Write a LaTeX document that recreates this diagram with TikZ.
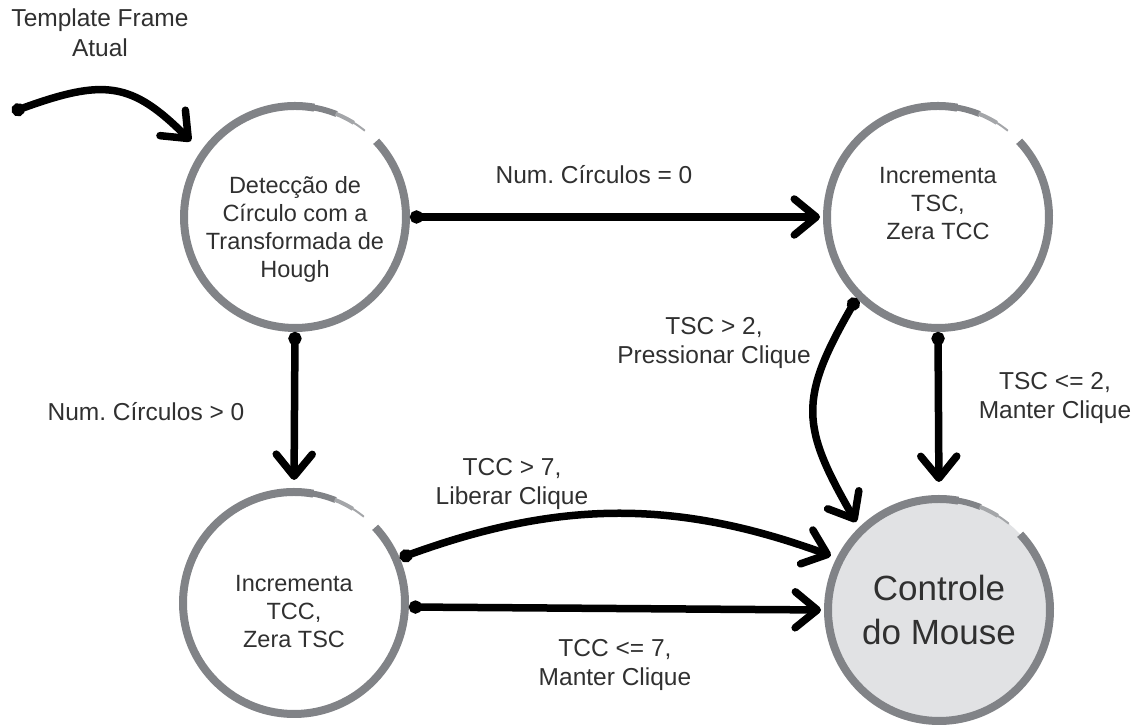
\documentclass[tikz,border=0pt]{standalone}
\usepackage{fontspec}
\setmainfont{Liberation Sans}
\frenchspacing
\usetikzlibrary{arrows.meta,calc}

\definecolor{ring}{HTML}{818387}
\definecolor{ringfade}{HTML}{A4A6A9}
\definecolor{mousefill}{HTML}{E1E2E4}
\definecolor{ink}{HTML}{303030}

\tikzset{
  state/.style={circle, minimum size=222pt, inner sep=0pt, outer sep=4pt},
  statetext/.style={align=center, text=ink, font=\fontsize{23.5}{28}\selectfont},
  bigtext/.style={align=center, text=ink, font=\fontsize{35}{44}\selectfont},
  lbl/.style={align=center, text=ink, font=\fontsize{24.5}{29.5}\selectfont},
  brush/.style={draw=black, line width=7.5pt, line cap=round,
    {Circle[length=13pt]}-{Straight Barb[length=22pt,width=36pt,round]}},
}

% gray brush ring with a tapering tail near the top right
\newcommand\brushring[1]{%
  \draw[ring, line width=8pt] ($(#1.center)+(43:111pt)$)
    arc[start angle=43, end angle=-280, radius=111pt];
  \foreach \a/\b/\w/\c in {80.5/68/6/ring, 68.5/58/4/ringfade, 58.5/51/2/ringfade}{
    \draw[\c, line width=\w pt] ($(#1.center)+(\a:111pt)$)
      arc[start angle=\a, end angle=\b, radius=111pt];
  }%
}

\begin{document}
\begin{tikzpicture}[x=1pt, y=1pt]
  \useasboundingbox (0,0) rectangle (1141,725);

  % states
  \node[state] (c1) at (295,508) {};
  \node[state] (c2) at (938,508) {};
  \node[state] (c3) at (294,122) {};
  \node[state, fill=mousefill] (c4) at (939,115) {};

  \brushring{c1}
  \brushring{c2}
  \brushring{c3}
  \brushring{c4}

  \node[statetext] (c1t) at (295,496) {Detecção de\\Círculo com a\\Transformada de\\Hough};
  \node[statetext] (c2t) at (938,521) {Incrementa\\TSC,\\Zera TCC};
  \node[statetext] (c3t) at (294,113) {Incrementa\\TCC,\\Zera TSC};
  \node[bigtext]   (c4t) at (939,115) {Controle\\do Mouse};

  % entry
  \node[lbl] (tmpl) at (100,692) {Template Frame\\Atual};
  \coordinate (src) at (12,613);
  \draw[brush, shorten >=14pt] (src) to[out=20, in=135, looseness=1.3] (c1.145);

  % transitions
  \draw[brush, shorten >=3pt] (c1.east) -- (c2.west);
  \draw[brush, shorten >=8pt] (c1.south) -- (c3.north);
  \draw[brush, shorten >=13pt] (c2.south) -- (c4.north);
  \draw[brush, shorten >=6pt] (c2.225) to[out=240, in=120, looseness=1.3] (c4.134);
  \draw[brush, shorten >=6pt] (c3.23) to[out=20, in=160] (c4.153);
  \draw[brush, shorten >=3pt] (c3.-2) -- (c4.west);

  % transition labels
  \node[lbl] (l12)  at (594,550) {Num. Círculos = 0};
  \node[lbl] (l13)  at (146,313) {Num. Círculos > 0};
  \node[lbl] (l24a) at (714,382) {TSC > 2,\\Pressionar Clique};
  \node[lbl] (l24b) at (1055,327) {TSC <= 2,\\Manter Clique};
  \node[lbl] (l34a) at (512,241) {TCC > 7,\\Liberar Clique};
  \node[lbl] (l34b) at (615,60) {TCC <= 7,\\Manter Clique};
\end{tikzpicture}
\end{document}
